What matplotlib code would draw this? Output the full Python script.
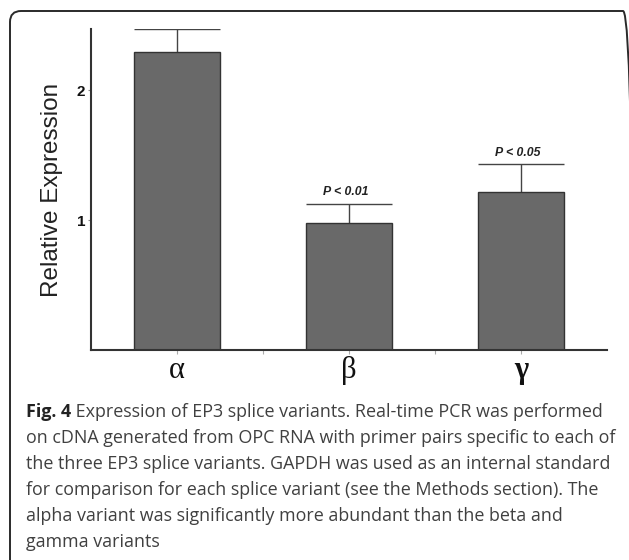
import matplotlib
matplotlib.use("Agg")
import matplotlib.pyplot as plt
from matplotlib.patches import FancyBboxPatch
from matplotlib.transforms import IdentityTransform

# Data
variants = ["α", "β", "γ"]
expression = [2.29, 0.975, 1.215]
sem = [0.18, 0.152, 0.213]
p_labels = ["", "P < 0.01", "P < 0.05"]
y_ticks = [1, 2]

caption_bold = "Fig. 4"
caption_lines = [
    " Expression of EP3 splice variants. Real-time PCR was performed",
    "on cDNA generated from OPC RNA with primer pairs specific to each of",
    "the three EP3 splice variants. GAPDH was used as an internal standard",
    "for comparison for each splice variant (see the Methods section). The",
    "alpha variant was significantly more abundant than the beta and",
    "gamma variants",
]

W, H = 629, 560
fig = plt.figure(figsize=(W / 100, H / 100), dpi=100)
fig.patch.set_facecolor("white")

# Rounded frame around figure and caption
frame = FancyBboxPatch((10, -20), 624, 569,
                       boxstyle="round,pad=0,rounding_size=11",
                       transform=IdentityTransform(),
                       facecolor="none", edgecolor="#2a2a2a", linewidth=1.4)
fig.add_artist(frame)

ax = fig.add_axes([91 / W, 1 - 350 / H, (607 - 91) / W, (350 - 29) / H])
x = list(range(len(variants)))
bw = 0.5
ax.bar(x, expression, width=bw, color="#696969", edgecolor="#333333",
       linewidth=1.0, zorder=2)

tops = [v + e for v, e in zip(expression, sem)]
ax.vlines(x, expression, tops, color="#444444", linewidth=1.0, zorder=1)
ax.hlines(tops, [xi - bw / 2 for xi in x], [xi + bw / 2 for xi in x],
          color="#444444", linewidth=1.0, zorder=1)

for xi, t, lab in zip(x, tops, p_labels):
    if lab:
        ax.annotate(lab, (xi, t), xytext=(-2, 4), textcoords="offset points",
                    ha="center", va="bottom", fontsize=8.8,
                    fontweight="bold", fontstyle="italic",
                    family="Liberation Sans", color="#222222")

ax.set_xlim(-0.5, 2.5)
ax.set_ylim(0, 2.47)

for s in ["top", "right"]:
    ax.spines[s].set_visible(False)
for s in ["left", "bottom"]:
    ax.spines[s].set_color("#333333")
    ax.spines[s].set_linewidth(1.5)

ax.set_yticks(y_ticks)
ax.set_yticklabels([str(t) for t in y_ticks], fontsize=11, fontweight="bold",
                   family="Liberation Sans", color="#111111")
ax.tick_params(axis="y", direction="out", length=2, width=0.8,
               color="#888888", pad=2)

ax.set_xticks(x)
ax.set_xticklabels(variants, fontsize=22, family="Liberation Serif",
                   color="#111111")
ax.get_xticklabels()[2].set_fontweight("bold")
ax.set_xticks([0.5, 1.5], minor=True)
ax.tick_params(axis="x", which="both", direction="out", length=3, width=0.8,
               color="#aaaaaa", pad=1)

ax.set_ylabel("Relative Expression", fontsize=17.5, family="Liberation Sans",
              color="#222222", labelpad=10)

# Caption
cap_font = dict(family="Open Sans", fontsize=12.9, color="#404040")
y0 = 1 - 417 / H
dy = 26 / H
t0 = fig.text(26 / W, y0, caption_bold, fontweight="bold", va="baseline",
              **{**cap_font, "color": "#222222"})
fig.canvas.draw()
r = fig.canvas.get_renderer()
bb = t0.get_window_extent(r)
fig.text(bb.x1 / W, y0, caption_lines[0], va="baseline", **cap_font)
for i, line in enumerate(caption_lines[1:], start=1):
    fig.text(26 / W, y0 - i * dy, line, va="baseline", **cap_font)

fig.savefig("out.png", dpi=100, facecolor="white")
